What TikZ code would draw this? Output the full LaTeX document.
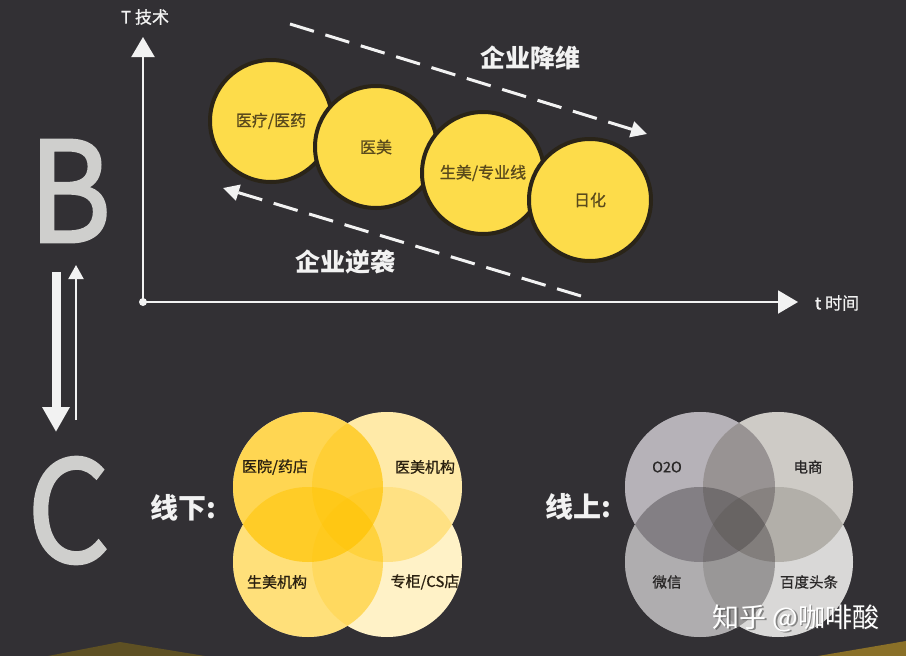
\documentclass[tikz,border=0pt]{standalone}
\usepackage{fontspec}
\setmainfont{Noto Sans CJK SC}
\newfontfamily\letterfont[FakeBold=2]{Noto Sans CJK SC}
\newfontfamily\medfont[FakeBold=0.8]{Noto Sans CJK SC}
\usetikzlibrary{arrows.meta}
\definecolor{bg}{HTML}{323034}
\definecolor{ylw}{HTML}{FDDC4A}
\definecolor{ring}{HTML}{2A2418}
\definecolor{dtext}{HTML}{5A4A1C}
\definecolor{letterc}{HTML}{CFCFCD}
\definecolor{vy}{HTML}{FFC400}
\definecolor{vtext}{HTML}{2A2010}
\definecolor{gtext}{HTML}{2A2828}
\definecolor{g1}{HTML}{3A3040}
\definecolor{g2}{HTML}{4A4030}
\definecolor{g3}{HTML}{383438}
\definecolor{g4}{HTML}{444038}
\definecolor{oliveL}{HTML}{5E5023}
\definecolor{oliveR}{HTML}{8A7028}
\definecolor{wline}{HTML}{F2F2F2}
\tikzset{
  axisline/.style={draw=wline, line width=2pt, -{Triangle[length=20pt,width=23pt]}},
  dasharrow/.style={draw=wline, line width=3pt, dash pattern=on 25pt off 12pt, -{Triangle[length=16pt,width=16pt]}},
  axlabel/.style={text=wline, font=\medfont\fontsize{17}{20}\selectfont, inner sep=0pt},
  biglabel/.style={text=wline, font=\bfseries\fontsize{25}{30}\selectfont, inner sep=0pt},
  sidelabel/.style={text=wline, font=\bfseries\fontsize{28}{32}\selectfont, inner sep=0pt},
  bigc/.style={circle, fill=ylw, draw=ring, line width=4pt, minimum size=122pt, inner sep=0pt, text=dtext, font=\medfont\fontsize{16}{18}\selectfont},
  vlab/.style={text=vtext, font=\medfont\fontsize{15}{18}\selectfont, inner sep=0pt},
  glab/.style={text=gtext, font=\medfont\fontsize{14.5}{18}\selectfont, inner sep=0pt},
  letternode/.style={text=letterc, inner sep=0pt, font=\letterfont},
}
\begin{document}
\begin{tikzpicture}[x=1pt,y=-1pt]
\fill[bg] (0,0) rectangle (906,656);
\useasboundingbox (0,0) rectangle (906,656);
% bottom decorations
\fill[oliveL] (48,656) -- (120,642) -- (205,656) -- cycle;
\fill[oliveR] (818,656) -- (906,641) -- (906,656) -- cycle;
% axes
\coordinate (O) at (143,302);
\coordinate (Ytop) at (143,37);
\coordinate (Xend) at (798,302);
\draw[axisline] (O) -- (Ytop);
\draw[axisline] (O) -- (Xend);
\fill[wline] (O) circle (4);
\node[axlabel] (tlab) at (145,17) {T 技术};
\node[axlabel] (xlab) at (837,303) {t 时间};
% yellow circles
\node[bigc] (c1) at (271,121) {医疗/医药};
\node[bigc] (c2) at (376,147) {医美};
\node[bigc] (c3) at (483,173) {生美/专业线};
\node[bigc] (c4) at (590,200) {日化};
% dashed arrows
\coordinate (d1s) at (290,24);
\coordinate (d1e) at (647,134);
\draw[dasharrow] (d1s) -- (d1e);
\coordinate (d2s) at (581,296);
\coordinate (d2e) at (223,188);
\draw[dasharrow] (d2s) -- (d2e);
\node[biglabel] (jw) at (530,58) {企业降维};
\node[biglabel] (nx) at (345,262) {企业逆袭};
% B and C
\node[letternode] (B) at (70,191) {\scalebox{0.9}[1]{\resizebox{!}{102pt}{B}}};
\node[letternode] (C) at (68.5,510.5) {\scalebox{0.92}[1]{\resizebox{!}{105pt}{C}}};
% B <-> C arrows
\coordinate (bd1) at (56,272);
\coordinate (bd2) at (56,432);
\draw[draw=wline, line width=9pt, -{Triangle[length=25pt,width=26pt]}] (bd1) -- (bd2);
\coordinate (bu1) at (76,420);
\coordinate (bu2) at (76,265);
\draw[draw=wline, line width=2pt, -{Triangle[length=14pt,width=15pt]}] (bu1) -- (bu2);
% offline venn
\coordinate (y1) at (308,487);
\coordinate (y2) at (387,487);
\coordinate (y3) at (308,562);
\coordinate (y4) at (387,562);
\foreach \p in {y1,y2,y3,y4} {\fill[white] (\p) circle (75);}
\fill[vy, fill opacity=0.68] (y1) circle (75);
\fill[vy, fill opacity=0.34] (y2) circle (75);
\fill[vy, fill opacity=0.52] (y3) circle (75);
\fill[vy, fill opacity=0.22] (y4) circle (75);
\node[vlab] (v1) at (275,467) {医院/药店};
\node[vlab] (v2) at (425,467) {医美机构};
\node[vlab] (v3) at (277,582) {生美机构};
\node[vlab] (v4) at (425,582) {专柜/CS店};
\node[sidelabel] (xx) at (183,508) {线下:};
% online venn
\coordinate (q1) at (700,487);
\coordinate (q2) at (778,487);
\coordinate (q3) at (700,562);
\coordinate (q4) at (778,562);
\foreach \p in {q1,q2,q3,q4} {\fill[white] (\p) circle (75);}
\fill[g1, fill opacity=0.37] (q1) circle (75);
\fill[g2, fill opacity=0.27] (q2) circle (75);
\fill[g3, fill opacity=0.40] (q3) circle (75);
\fill[g4, fill opacity=0.20] (q4) circle (75);
\node[glab] (w1) at (667,467) {O2O};
\node[glab] (w2) at (808,467) {电商};
\node[glab] (w3) at (667,582) {微信};
\node[glab] (w4) at (809,582) {百度头条};
\node[sidelabel] (xs) at (578,507) {线上:};
% watermark
\node[text=black!70, font=\fontsize{27}{30}\selectfont, inner sep=0pt, opacity=0.6] (wms) at (797.5,619.5) {知乎 @咖啡酸};
\node[text=white, font=\fontsize{27}{30}\selectfont, inner sep=0pt] (wm) at (796,618) {知乎 @咖啡酸};
\end{tikzpicture}
\end{document}
